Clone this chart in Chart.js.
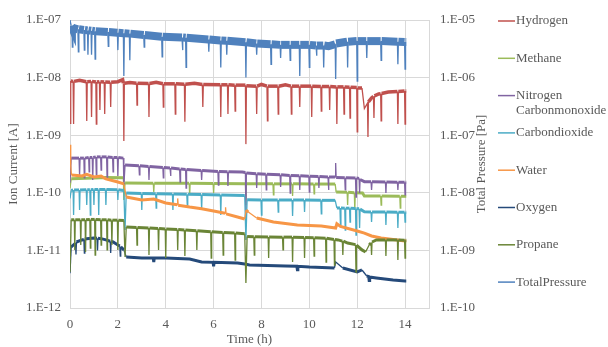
<!DOCTYPE html>
<html>
<head>
<meta charset="utf-8">
<script src="https://cdn.jsdelivr.net/npm/chart.js@4.4.1/dist/chart.umd.min.js"></script>
<style>
  html, body { margin: 0; padding: 0; background: #fff; }
</style>
</head>
<body>
<canvas id="ionChart" width="608" height="347"></canvas>
<script>
// series names (legend rows), nitrogen label spans two lines
const seriesNames = ['Hydrogen', 'Methane', ['Nitrogen', 'Carbonmonoxide'], 'Carbondioxide', 'Water', 'Oxygen', 'Propane', 'TotalPressure'];
const seriesColors = ['#C0504D', '#9BBB59', '#8064A2', '#4BACC6', '#F79646', '#254A7A', '#6A8536', '#4F81BD'];

const leftTicks = [1e-12, 1e-11, 1e-10, 1e-9, 1e-8, 1e-7];
const rightTicks = [1e-10, 1e-9, 1e-8, 1e-7, 1e-6, 1e-5];
const timeTicks = [0, 2, 4, 6, 8, 10, 12, 14];

// [time (h), ion current (A)]
const hydrogen = [[0,1.6e-9],[0.03,8.7e-9],[0.13,8.6e-9],[0.15,1.56e-9],[0.17,8.6e-9],[0.4,9.0e-9],[0.68,8.5e-9],[0.7,1.77e-9],[0.72,8.5e-9],[0.88,8.6e-9],[0.9,2.07e-9],[0.92,8.6e-9],[1.08,8.4e-9],[1.1,1.56e-9],[1.12,8.4e-9],[1.23,8.5e-9],[1.25,2.74e-9],[1.27,8.5e-9],[1.43,8.4e-9],[1.45,2.33e-9],[1.47,8.4e-9],[1.68,8.3e-9],[1.7,3.09e-9],[1.72,8.3e-9],[2.0,8.5e-9],[2.2,9.2e-9],[2.23,8.0e-9],[2.25,7.9e-10],[2.27,8.0e-9],[2.5,8.2e-9],[2.78,8.0e-9],[2.8,3.34e-9],[2.82,8.0e-9],[3.28,7.9e-9],[3.3,2.07e-9],[3.32,7.9e-9],[3.6,8.3e-9],[3.88,7.8e-9],[3.9,3.09e-9],[3.92,7.8e-9],[4.38,7.8e-9],[4.4,2.33e-9],[4.42,7.8e-9],[4.78,7.7e-9],[4.8,1.71e-9],[4.82,7.7e-9],[5.2,8.0e-9],[5.53,7.6e-9],[5.55,3.09e-9],[5.57,7.6e-9],[6.28,7.5e-9],[6.3,2.07e-9],[6.32,7.5e-9],[6.58,7.5e-9],[6.6,2.33e-9],[6.62,7.5e-9],[6.88,7.4e-9],[6.9,2.63e-9],[6.92,7.4e-9],[7.33,7.4e-9],[7.35,7.0e-10],[7.37,7.2e-9],[7.78,7.1e-9],[7.8,2.33e-9],[7.82,7.1e-9],[8.0,7.6e-9],[8.23,7.1e-9],[8.25,1.77e-9],[8.27,7.1e-9],[8.68,7.1e-9],[8.7,2.33e-9],[8.72,7.1e-9],[9.0,7.5e-9],[9.23,7.1e-9],[9.25,2.33e-9],[9.27,7.1e-9],[9.58,7.1e-9],[9.6,3.09e-9],[9.62,7.1e-9],[10.08,7.1e-9],[10.1,2.07e-9],[10.12,7.1e-9],[10.48,7.0e-9],[10.5,2.63e-9],[10.52,7.0e-9],[10.83,7.0e-9],[10.85,2.74e-9],[10.87,7.0e-9],[11.13,6.9e-9],[11.15,1.56e-9],[11.17,6.9e-9],[11.43,6.9e-9],[11.45,2.33e-9],[11.47,6.9e-9],[11.68,6.8e-9],[11.7,1.99e-9],[11.72,6.8e-9],[11.98,6.7e-9],[12.0,1.14e-9],[12.02,6.6e-9],[12.2,6.6e-9],[12.3,2.9e-9],[12.43,3.6e-9],[12.45,9.3e-10],[12.47,3.8e-9],[12.6,4.43e-9],[12.68,4.7e-9],[12.7,1.99e-9],[12.72,4.8e-9],[12.9,5.19e-9],[12.98,5.25e-9],[13.0,1.77e-9],[13.02,5.3e-9],[13.3,5.61e-9],[13.68,5.75e-9],[13.7,1.56e-9],[13.72,5.75e-9],[13.98,5.85e-9],[14.0,1.56e-9],[14.02,5.85e-9],[14.05,5.85e-9]];

const methane = [[0,1.2e-10],[0.05,1.75e-10],[1.0,1.8e-10],[1.5,1.85e-10],[2.23,1.82e-10],[2.25,7.5e-11],[2.3,1.48e-10],[3.48,1.47e-10],[3.5,1.03e-10],[3.52,1.47e-10],[4.98,1.46e-10],[5.0,9.17e-11],[5.02,1.46e-10],[5.98,1.45e-10],[6.0,9.93e-11],[6.02,1.45e-10],[7.33,1.44e-10],[7.35,6.14e-11],[7.37,1.44e-10],[8.48,1.43e-10],[8.5,9.17e-11],[8.52,1.43e-10],[9.28,1.43e-10],[9.3,8.8e-11],[9.32,1.43e-10],[10.18,1.42e-10],[10.2,9.55e-11],[10.22,1.42e-10],[11.08,1.42e-10],[11.12,1.03e-10],[11.58,1.02e-10],[11.6,6.14e-11],[11.62,1.02e-10],[11.88,1.0e-10],[11.9,5.03e-11],[11.92,1.0e-10],[12.22,9.9e-11],[12.3,8.8e-11],[12.98,8.8e-11],[13.0,6.14e-11],[13.02,8.8e-11],[13.78,8.7e-11],[13.8,5.45e-11],[13.82,8.7e-11],[14.05,8.7e-11]];

const nitrogen = [[0,1.5e-10],[0.05,4.0e-10],[0.38,4.0e-10],[0.4,2.04e-10],[0.42,4.0e-10],[0.58,4.0e-10],[0.6,1.81e-10],[0.62,4.0e-10],[0.78,4.1e-10],[0.8,2.3e-10],[0.82,4.1e-10],[0.93,4.1e-10],[0.95,1.67e-10],[0.97,4.1e-10],[1.08,4.2e-10],[1.1,2.04e-10],[1.12,4.2e-10],[1.28,4.2e-10],[1.3,2.49e-10],[1.32,4.2e-10],[1.53,4.2e-10],[1.55,1.81e-10],[1.57,4.2e-10],[1.78,4.1e-10],[1.8,2.3e-10],[1.82,4.1e-10],[1.98,4.1e-10],[2.0,1.96e-10],[2.02,4.1e-10],[2.23,4.0e-10],[2.25,1.36e-10],[2.3,3.04e-10],[2.88,2.95e-10],[2.9,2.04e-10],[2.92,2.95e-10],[3.28,2.85e-10],[3.3,1.67e-10],[3.32,2.85e-10],[3.88,2.75e-10],[3.9,1.81e-10],[3.92,2.75e-10],[4.18,2.7e-10],[4.2,1.96e-10],[4.22,2.7e-10],[4.58,2.6e-10],[4.6,1.54e-10],[4.62,2.6e-10],[4.83,2.55e-10],[4.85,1.21e-10],[4.87,2.55e-10],[5.48,2.45e-10],[5.5,1.67e-10],[5.52,2.45e-10],[6.18,2.35e-10],[6.2,1.36e-10],[6.22,2.35e-10],[6.58,2.32e-10],[6.6,1.31e-10],[6.62,2.32e-10],[7.2,2.3e-10],[7.33,2.25e-10],[7.35,4.12e-11],[7.37,2.2e-10],[7.78,2.15e-10],[7.8,1.21e-10],[7.82,2.15e-10],[8.18,2.1e-10],[8.2,1.12e-10],[8.22,2.1e-10],[8.78,2.05e-10],[8.8,1.26e-10],[8.82,2.05e-10],[9.18,2.0e-10],[9.2,9.93e-11],[9.22,2.0e-10],[9.58,1.97e-10],[9.6,1.12e-10],[9.62,1.97e-10],[9.98,1.94e-10],[10.0,1.03e-10],[10.02,1.94e-10],[10.38,1.91e-10],[10.4,1.21e-10],[10.42,1.91e-10],[10.78,1.89e-10],[10.8,1.12e-10],[10.82,1.89e-10],[11.08,1.88e-10],[11.1,3.29e-10],[11.12,1.85e-10],[11.48,1.82e-10],[11.5,1.12e-10],[11.52,1.82e-10],[11.93,1.8e-10],[11.95,8.46e-11],[11.97,1.8e-10],[12.08,1.78e-10],[12.1,9.93e-11],[12.12,1.7e-10],[12.3,1.56e-10],[12.58,1.55e-10],[12.6,1.12e-10],[12.62,1.55e-10],[13.18,1.54e-10],[13.2,9.93e-11],[13.22,1.54e-10],[13.68,1.53e-10],[13.7,1.12e-10],[13.72,1.53e-10],[13.98,1.52e-10],[14.0,9.17e-11],[14.02,1.52e-10],[14.05,1.52e-10]];

const carbondioxide = [[0,8e-11],[0.05,1.1e-10],[0.13,1.12e-10],[0.15,4.12e-11],[0.17,1.12e-10],[0.38,1.12e-10],[0.4,5.03e-11],[0.42,1.12e-10],[0.68,1.13e-10],[0.7,6.14e-11],[0.72,1.13e-10],[0.83,1.13e-10],[0.85,4.12e-11],[0.87,1.13e-10],[0.98,1.14e-10],[1.0,6.14e-11],[1.02,1.14e-10],[1.18,1.14e-10],[1.2,4.12e-11],[1.22,1.14e-10],[1.48,1.14e-10],[1.5,6.14e-11],[1.52,1.14e-10],[1.98,1.13e-10],[2.0,7.5e-11],[2.02,1.13e-10],[2.25,1.1e-10],[2.3,2.26e-11],[2.35,9.9e-11],[2.98,9.7e-11],[3.0,5.03e-11],[3.02,9.7e-11],[3.58,9.6e-11],[3.6,5.45e-11],[3.62,9.6e-11],[4.28,9.5e-11],[4.3,5.03e-11],[4.32,9.5e-11],[4.88,9.4e-11],[4.9,6.14e-11],[4.92,9.4e-11],[5.48,9.3e-11],[5.5,5.03e-11],[5.52,9.3e-11],[6.28,9.2e-11],[6.3,4.12e-11],[6.32,9.2e-11],[7.3,9.0e-11],[7.35,1.52e-11],[7.4,7.6e-11],[7.98,7.5e-11],[8.0,4.12e-11],[8.02,7.5e-11],[8.68,7.5e-11],[8.7,4.64e-11],[8.72,7.5e-11],[9.28,7.5e-11],[9.3,3.95e-11],[9.32,7.5e-11],[9.78,7.5e-11],[9.8,4.64e-11],[9.82,7.5e-11],[10.48,7.4e-11],[10.5,4.29e-11],[10.52,7.4e-11],[11.08,7.4e-11],[11.15,5.45e-11],[11.28,5.45e-11],[11.3,2.76e-11],[11.32,5.45e-11],[11.48,5.4e-11],[11.5,2.26e-11],[11.52,5.4e-11],[11.68,5.4e-11],[11.7,3.11e-11],[11.72,5.4e-11],[11.93,5.35e-11],[11.95,1.85e-11],[11.97,5.3e-11],[12.08,5.3e-11],[12.1,2.45e-11],[12.12,5.2e-11],[12.3,4.7e-11],[12.58,4.65e-11],[12.6,3.11e-11],[12.62,4.65e-11],[13.18,4.64e-11],[13.2,2.76e-11],[13.22,4.64e-11],[13.68,4.6e-11],[13.7,2.45e-11],[13.72,4.6e-11],[13.98,4.6e-11],[14.0,3.11e-11],[14.02,4.6e-11],[14.05,4.6e-11]];

const water = [[0,6.8e-10],[0.03,3.0e-10],[0.06,2.04e-10],[0.3,2.0e-10],[0.5,1.96e-10],[0.7,2.1e-10],[1.0,1.88e-10],[1.3,1.95e-10],[1.5,1.74e-10],[2.0,1.54e-10],[2.25,1.43e-10],[2.35,8.46e-11],[3.0,7.5e-11],[3.5,7.8e-11],[4.0,6.65e-11],[4.48,6.2e-11],[4.5,8.0e-11],[4.52,6.1e-11],[5.0,5.66e-11],[5.5,5.3e-11],[6.0,4.84e-11],[6.48,4.4e-11],[6.5,5.6e-11],[6.52,4.3e-11],[7.0,3.8e-11],[7.3,3.51e-11],[7.36,5.0e-11],[7.45,4.64e-11],[7.8,3.65e-11],[8.5,3.11e-11],[9.5,2.76e-11],[10.5,2.65e-11],[11.1,2.45e-11],[11.15,2.9e-11],[11.3,2.6e-11],[12.0,2.17e-11],[12.3,2.0e-11],[12.6,1.78e-11],[13.0,1.64e-11],[14.0,1.46e-11],[14.05,1.46e-11]];

const oxygen = [[0,4.0e-12],[0.05,1.15e-11],[0.2,1.3e-11],[0.23,1.35e-11],[0.25,8.5e-12],[0.27,1.4e-11],[0.5,1.52e-11],[0.58,1.55e-11],[0.6,9.0e-12],[0.62,1.56e-11],[0.7,1.6e-11],[1.0,1.64e-11],[1.13,1.63e-11],[1.15,1.0e-11],[1.17,1.62e-11],[1.3,1.6e-11],[1.5,1.52e-11],[1.68,1.44e-11],[1.7,9.0e-12],[1.72,1.43e-11],[1.8,1.4e-11],[2.0,1.24e-11],[2.08,1.2e-11],[2.1,8.0e-12],[2.12,1.15e-11],[2.25,1.02e-11],[2.35,7.68e-12],[3.0,7.38e-12],[3.48,7.38e-12],[3.5,6.3e-12],[3.52,7.38e-12],[4.0,7.38e-12],[5.0,7.1e-12],[5.5,6.29e-12],[5.98,6.2e-12],[6.0,5.3e-12],[6.02,6.2e-12],[7.0,6.04e-12],[7.3,5.81e-12],[7.5,5.58e-12],[9.0,5.36e-12],[9.48,5.3e-12],[9.5,4.6e-12],[9.52,5.3e-12],[10.0,5.15e-12],[11.05,4.95e-12],[11.1,6.29e-12],[11.4,4.95e-12],[12.0,4.22e-12],[12.2,4.57e-12],[12.4,3.59e-12],[12.48,3.5e-12],[12.5,3.0e-12],[12.52,3.45e-12],[12.8,3.32e-12],[13.5,3.06e-12],[14.0,2.94e-12],[14.05,2.94e-12]];

const propane = [[0,4.2e-12],[0.05,3.4e-11],[0.18,3.4e-11],[0.2,1.02e-11],[0.22,3.4e-11],[0.43,3.4e-11],[0.45,1.24e-11],[0.47,3.4e-11],[0.63,3.4e-11],[0.65,9.38e-12],[0.67,3.4e-11],[0.83,3.45e-11],[0.85,1.1e-11],[0.87,3.45e-11],[1.03,3.45e-11],[1.05,8.32e-12],[1.07,3.45e-11],[1.28,3.4e-11],[1.3,1.24e-11],[1.32,3.4e-11],[1.53,3.4e-11],[1.55,1.02e-11],[1.57,3.4e-11],[1.73,3.35e-11],[1.75,1.24e-11],[1.77,3.35e-11],[1.98,3.35e-11],[2.0,1.02e-11],[2.02,3.35e-11],[2.25,3.3e-11],[2.3,7.68e-12],[2.35,2.55e-11],[2.78,2.5e-11],[2.8,1.24e-11],[2.82,2.5e-11],[3.28,2.45e-11],[3.3,8.32e-12],[3.32,2.45e-11],[3.68,2.4e-11],[3.7,1.02e-11],[3.72,2.4e-11],[3.98,2.35e-11],[4.0,7.38e-12],[4.02,2.35e-11],[4.48,2.3e-11],[4.5,1.02e-11],[4.52,2.3e-11],[4.78,2.25e-11],[4.8,8.0e-12],[4.82,2.25e-11],[5.28,2.2e-11],[5.3,1.02e-11],[5.32,2.2e-11],[5.88,2.1e-11],[5.9,7.38e-12],[5.92,2.1e-11],[6.38,2.05e-11],[6.4,8.32e-12],[6.42,2.05e-11],[6.88,2.0e-11],[6.9,6.81e-12],[6.92,2.0e-11],[7.3,1.95e-11],[7.35,2.72e-12],[7.4,1.75e-11],[7.68,1.72e-11],[7.7,8.32e-12],[7.72,1.72e-11],[8.28,1.71e-11],[8.3,7.38e-12],[8.32,1.71e-11],[8.88,1.7e-11],[8.9,1.02e-11],[8.92,1.7e-11],[9.28,1.7e-11],[9.3,6.29e-12],[9.32,1.7e-11],[9.78,1.68e-11],[9.8,7.38e-12],[9.82,1.68e-11],[10.18,1.66e-11],[10.2,8.0e-12],[10.22,1.66e-11],[10.68,1.62e-11],[10.7,6.29e-12],[10.72,1.62e-11],[11.03,1.55e-11],[11.05,5.58e-12],[11.07,1.55e-11],[11.2,1.52e-11],[11.38,1.45e-11],[11.4,8.32e-12],[11.42,1.45e-11],[11.6,1.34e-11],[11.93,1.26e-11],[11.95,4.22e-12],[11.97,1.24e-11],[12.2,1.02e-11],[12.35,9.38e-12],[12.5,1.24e-11],[12.58,1.35e-11],[12.6,8.32e-12],[12.62,1.4e-11],[12.8,1.52e-11],[13.18,1.52e-11],[13.2,8.0e-12],[13.22,1.52e-11],[13.68,1.52e-11],[13.7,6.81e-12],[13.72,1.52e-11],[13.98,1.5e-11],[14.0,7.38e-12],[14.02,1.5e-11],[14.05,1.5e-11]];

// [time (h), total pressure (Pa)] on the right axis
const totalPressure = [[0,1.0e-5],[0.05,7.9e-6],[0.08,7.4e-6],[0.1,3.4e-6],[0.12,7.3e-6],[0.33,6.9e-6],[0.35,2.8e-6],[0.37,6.9e-6],[0.58,6.7e-6],[0.6,3.0e-6],[0.62,6.7e-6],[0.73,6.6e-6],[0.75,2.5e-6],[0.77,6.6e-6],[0.88,6.5e-6],[0.9,2.5e-6],[0.92,6.5e-6],[1.03,6.4e-6],[1.05,2.1e-6],[1.07,6.4e-6],[1.58,6.2e-6],[1.6,3.5e-6],[1.62,6.2e-6],[1.98,6.0e-6],[2.0,3.0e-6],[2.02,6.0e-6],[2.23,5.9e-6],[2.25,1.07e-6],[2.27,5.9e-6],[2.48,5.8e-6],[2.5,2.0e-6],[2.52,5.8e-6],[3.08,5.5e-6],[3.1,3.4e-6],[3.12,5.5e-6],[3.83,5.1e-6],[3.85,2.3e-6],[3.87,5.1e-6],[4.68,4.95e-6],[4.7,3.0e-6],[4.72,4.95e-6],[4.83,4.9e-6],[4.85,1.5e-6],[4.87,4.9e-6],[5.78,4.6e-6],[5.8,2.8e-6],[5.82,4.6e-6],[6.28,4.4e-6],[6.3,1.5e-6],[6.32,4.4e-6],[6.53,4.35e-6],[6.55,2.5e-6],[6.57,4.35e-6],[7.33,4.1e-6],[7.35,1.0e-6],[7.37,4.1e-6],[7.78,3.9e-6],[7.8,2.5e-6],[7.82,3.9e-6],[8.38,3.8e-6],[8.4,1.7e-6],[8.42,3.8e-6],[8.78,3.7e-6],[8.8,2.2e-6],[8.82,3.7e-6],[9.18,3.7e-6],[9.2,2.0e-6],[9.22,3.7e-6],[9.58,3.7e-6],[9.6,1.07e-6],[9.62,3.7e-6],[9.98,3.7e-6],[10.0,1.5e-6],[10.02,3.7e-6],[10.28,3.6e-6],[10.3,2.4e-6],[10.32,3.6e-6],[10.58,3.6e-6],[10.6,1.5e-6],[10.62,3.6e-6],[10.8,3.5e-6],[11.08,3.8e-6],[11.1,9.5e-7],[11.12,3.9e-6],[11.5,4.15e-6],[11.58,4.2e-6],[11.6,1.5e-6],[11.62,4.2e-6],[11.98,4.3e-6],[12.0,8.7e-7],[12.02,4.3e-6],[12.38,4.3e-6],[12.4,2.2e-6],[12.42,4.3e-6],[12.98,4.3e-6],[13.0,2.0e-6],[13.02,4.3e-6],[13.68,4.2e-6],[13.7,1.7e-6],[13.72,4.2e-6],[13.98,4.15e-6],[14.0,1.4e-6],[14.02,4.15e-6],[14.05,4.15e-6]];

const seriesData = [hydrogen, methane, nitrogen, carbondioxide, water, oxygen, propane, totalPressure];
const bandWidths = [3.5, 3, 3, 3, 3, 3, 3, 8];

Chart.defaults.font.family = '"Liberation Serif", "Times New Roman", serif';
Chart.defaults.font.size = 13;
Chart.defaults.color = '#595959';

const gridColor = '#D9D9D9';

function sciLabel(v) {
  const e = Math.round(Math.log10(v));
  return '1.E' + (e < 0 ? '-' : '+') + String(Math.abs(e)).padStart(2, '0');
}

// flat runs drawn as a thick noisy band, the sharp drops as thin lines
function segmentFor(thick) {
  return {
    borderWidth: c => Math.abs(c.p1.y - c.p0.y) > 5 ? 1.3 : thick
  };
}

const datasets = seriesData.map((d, i) => ({
  label: Array.isArray(seriesNames[i]) ? seriesNames[i].join(' ') : seriesNames[i],
  data: d,
  borderColor: seriesColors[i],
  backgroundColor: seriesColors[i],
  borderWidth: bandWidths[i],
  pointRadius: 0,
  tension: 0,
  order: seriesData.length - i,
  yAxisID: i === 7 ? 'y2' : 'y',
  segment: segmentFor(bandWidths[i])
}));

// legend rows and right axis title, placed as in the reference
const sideText = {
  id: 'sideText',
  afterDraw(chart) {
    const ctx = chart.ctx;
    ctx.save();
    ctx.font = '13px "Liberation Serif", serif';
    ctx.fillStyle = '#595959';
    ctx.textBaseline = 'middle';
    seriesNames.forEach((name, i) => {
      const y = 21 + i * 37.3;
      ctx.strokeStyle = seriesColors[i];
      ctx.lineWidth = 1.5;
      ctx.beginPath();
      ctx.moveTo(498, y);
      ctx.lineTo(515, y);
      ctx.stroke();
      const lines = Array.isArray(name) ? name : [name];
      lines.forEach((t, k) => ctx.fillText(t, 516, y + k * 15));
    });
    ctx.translate(482, 164);
    ctx.rotate(-Math.PI / 2);
    ctx.textAlign = 'center';
    ctx.fillText('Total Pressure [Pa]', 0, 0);
    ctx.restore();
  }
};

const ctx = document.getElementById('ionChart').getContext('2d');

new Chart(ctx, {
  type: 'line',
  data: { datasets: datasets },
  options: {
    responsive: false,
    animation: false,
    layout: { padding: { top: 20, left: 0, right: 0, bottom: 0 } },
    plugins: {
      legend: { display: false },
      tooltip: { enabled: false }
    },
    scales: {
      x: {
        type: 'linear',
        min: 0,
        max: 15,
        afterBuildTicks: s => { s.ticks = timeTicks.map(v => ({ value: v })); },
        afterFit: s => { s.height = 39; },
        ticks: { padding: 9 },
        grid: { color: gridColor, drawTicks: false },
        border: { color: gridColor },
        title: { display: true, text: 'Time (h)', padding: { top: 0, bottom: 0 } }
      },
      y: {
        type: 'logarithmic',
        position: 'left',
        min: 1e-12,
        max: 1e-7,
        afterBuildTicks: s => { s.ticks = leftTicks.map(v => ({ value: v })); },
        afterFit: s => { s.width = 70; },
        ticks: { callback: v => sciLabel(v), padding: 9 },
        grid: { color: gridColor, drawTicks: false },
        border: { color: gridColor },
        title: { display: true, text: 'Ion Current [A]', padding: { top: 6, bottom: 0 } }
      },
      y2: {
        type: 'logarithmic',
        position: 'right',
        min: 1e-10,
        max: 1e-5,
        afterBuildTicks: s => { s.ticks = rightTicks.map(v => ({ value: v })); },
        afterFit: s => { s.width = 179; },
        ticks: { callback: v => sciLabel(v), padding: 11 },
        grid: { drawOnChartArea: false, drawTicks: false },
        border: { color: gridColor }
      }
    }
  },
  plugins: [sideText]
});
</script>
</body>
</html>
